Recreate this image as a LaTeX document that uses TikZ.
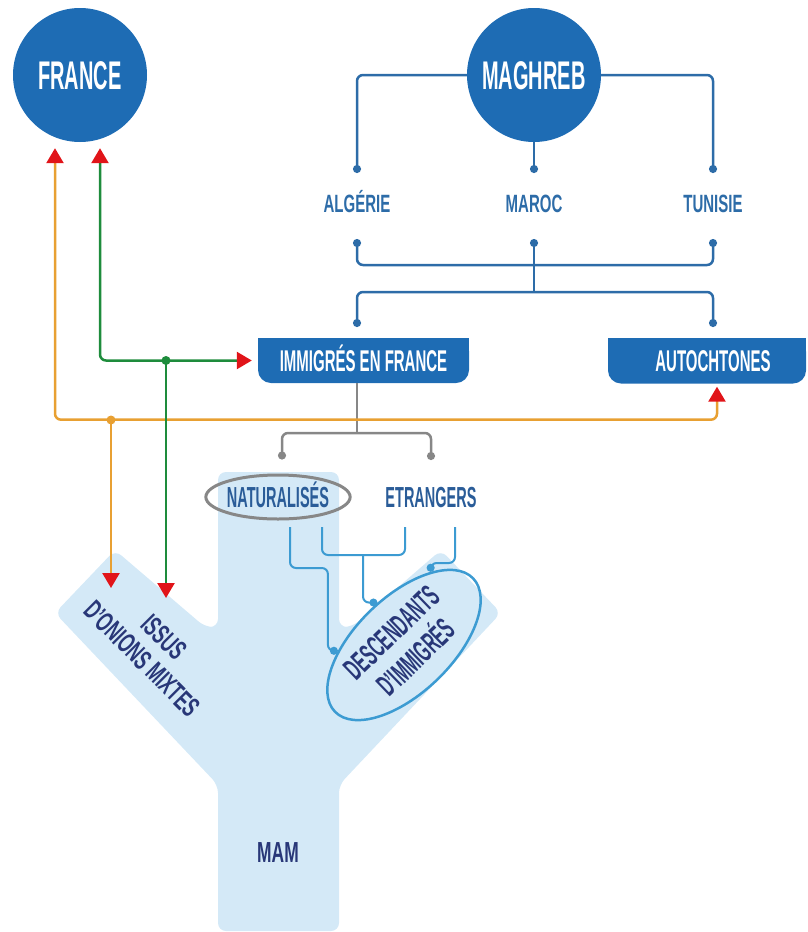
\documentclass[tikz,border=0pt]{standalone}
\usepackage{fontspec}
\newfontfamily\condfont{Liberation Sans}[FakeStretch=0.5]
\newfontfamily\widecond{Liberation Sans}[FakeStretch=0.6]
\usetikzlibrary{arrows.meta,calc,shapes.geometric,backgrounds}
\definecolor{discblue}{RGB}{30,108,180}
\definecolor{lineblue}{RGB}{45,108,168}
\definecolor{paleblue}{RGB}{212,233,247}
\definecolor{navy}{RGB}{40,55,120}
\definecolor{midblue}{RGB}{42,92,152}
\definecolor{greyline}{RGB}{135,135,135}
\definecolor{cyanline}{RGB}{60,155,210}
\definecolor{orangeline}{RGB}{232,160,50}
\definecolor{greenline}{RGB}{30,140,60}
\definecolor{arrowred}{RGB}{225,20,25}
\tikzset{
    ball/.tip={Circle[length=8pt]},
    redtip/.tip={Triangle[width=17pt,length=15pt,color=arrowred]},
    bigdisc/.style={circle,fill=discblue,minimum size=134pt,inner sep=0pt,text=white,
        text height=28pt,text depth=0pt,font=\condfont\bfseries\fontsize{40}{42}\selectfont},
    country/.style={text=lineblue,text height=18pt,text depth=0pt,
        font=\widecond\bfseries\fontsize{25}{26}\selectfont},
    tagbox/.style={fill=discblue,rounded corners=13pt,minimum height=45pt,text=white,
        text height=21pt,text depth=0pt,font=\condfont\bfseries\fontsize{30}{31}\selectfont},
    subgroup/.style={text=midblue,text height=20.5pt,text depth=0pt,
        font=\condfont\bfseries\fontsize{29}{30}\selectfont},
    ylabel/.style={text=navy,align=center,font=\condfont\bfseries\fontsize{31}{35}\selectfont},
    tree/.style={lineblue,line width=2.5pt,rounded corners=6pt},
    greytree/.style={greyline,line width=2.5pt,rounded corners=6pt},
    feed/.style={cyanline,line width=2pt,rounded corners=6pt},
    flow/.style={line width=2.5pt,rounded corners=6pt}
}
\begin{document}
\begin{tikzpicture}[x=1pt,y=-1pt]
    \useasboundingbox (0,0) rectangle (808,932);

    \node[bigdisc] (france) at (80,75) {FRANCE};
    \node[bigdisc] (maghreb) at (534,75) {MAGHREB};
    \node[country] (alg) at (357,203) {ALGÉRIE};
    \node[country] (mar) at (534,203) {MAROC};
    \node[country] (tun) at (713,203) {TUNISIE};
    \node[tagbox,minimum width=211pt] (immig) at (363.5,360.5) {IMMIGRÉS EN FRANCE};
    \node[tagbox,minimum width=198pt] (autoch) at (707,361) {\hspace{12pt}AUTOCHTONES};
    \node[subgroup,ellipse,draw=greyline,line width=3pt,minimum width=128pt,minimum height=44pt,inner sep=0pt] (natur) at (278,497) {NATURALISÉS};
    \node[subgroup] (etran) at (431,497) {ETRANGERS};
    \node[ylabel,font=\widecond\bfseries\fontsize{28}{31}\selectfont,rotate=-45] (issus) at (153,648) {ISSUS\\D’ONIONS MIXTES};
    \node[ylabel,ellipse,draw=cyanline,line width=2.5pt,inner sep=0pt,minimum width=192pt,minimum height=96pt,rotate=44] (desc) at (404,645) {DESCENDANTS\\D’IMMIGRÉS};
    \node[ylabel,font=\widecond\bfseries\fontsize{29}{30}\selectfont] (mam) at (278,853) {MAM};

    \begin{scope}[on background layer]
        \fill[paleblue,rounded corners=8pt] (218,472) -- (339,472) -- (339,627) -- (352,627) -- (441,550) -- (501,613) -- (339,785) -- (339,931) -- (218,931) -- (218,785) -- (55,613) -- (115,550) -- (205,627) -- (218,627) -- cycle;
        \fill[discblue] (immig.north west) rectangle (immig.east);
        \fill[discblue] (autoch.north west) rectangle (autoch.east);
    \end{scope}

    % maghreb tree
    \draw[tree,-ball] (maghreb.west) -| ($(alg)+(0,-30)$);
    \draw[tree,-ball] (maghreb.east) -| ($(tun)+(0,-30)$);
    \draw[tree,-ball] (maghreb.south) -- ($(mar)+(0,-30)$);
    \draw[tree,ball-ball] ($(alg)+(0,36)$) |- ($(tun)+(0,62)$) -- ($(tun)+(0,36)$);
    \draw[tree,ball-] ($(mar)+(0,36)$) -- ($(mar)+(0,89)$);
    \draw[tree,ball-ball] ($(alg)+(0,124)$) |- ($(tun)+(0,89)$) -- ($(tun)+(0,124)$);

    % immigres
    \draw[greytree] (alg |- immig.south) -- ($(alg)+(0,230)$);
    \draw[greytree,ball-ball] ($(natur.north)+(4,-14)$) |- ($(etran)+(0,-64)$) -- ($(etran)+(0,-37)$);
    \draw[feed,-ball] ($(natur)+(12,30)$) -- ++(0,41) -| ($(desc.141)+(-10,0)$) -- (desc.141);
    \draw[feed] ($(natur)+(44,30)$) |- ($(etran)+(-26,58)$) -- ($(etran)+(-26,30)$);
    \draw[feed,-ball] ($(natur)+(85,58)$) |- (desc.78);
    \draw[feed,-ball] ($(etran)+(24,30)$) -- ++(0,36) -| (desc.26);

    % mixed lines
    \coordinate (ojoin) at (111,420);
    \coordinate (oend) at (111,588);
    \coordinate (gjoin) at (166,360.5);
    \coordinate (gend) at (166,598);
    \draw[flow,orangeline,redtip-redtip] ($(france.south)+(-25,6)$) |- ($(autoch.south)+(10,36)$) -- ($(autoch.south)+(10,3)$);
    \draw[flow,orangeline,-redtip] (ojoin) -- (oend);
    \fill[orangeline] (ojoin) circle[radius=4.5];
    \draw[flow,greenline,redtip-redtip] ($(france.south)+(20,6)$) |- ($(immig.west)+(-6,0)$);
    \draw[flow,greenline,-redtip] (gjoin) -- (gend);
    \fill[greenline] (gjoin) circle[radius=4.5];
\end{tikzpicture}
\end{document}
